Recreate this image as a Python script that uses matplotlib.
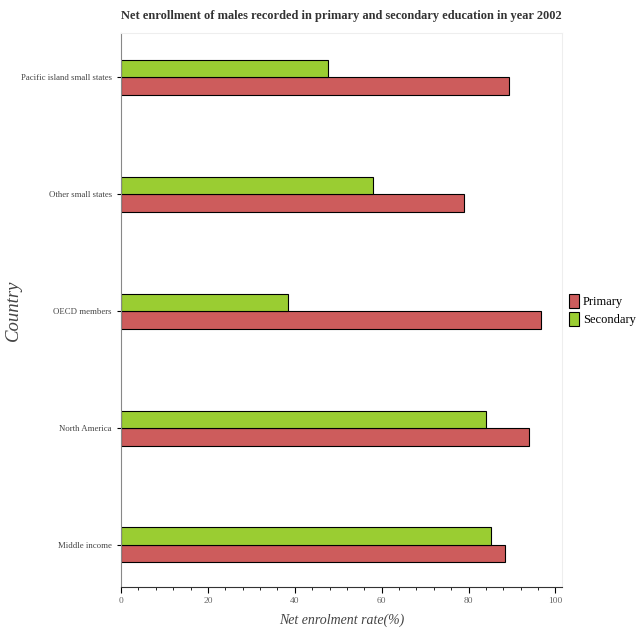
import matplotlib
matplotlib.use('Agg')
import matplotlib.pyplot as plt
import numpy as np
from matplotlib.ticker import MultipleLocator

countries = ['Middle income', 'North America', 'OECD members',
             'Other small states', 'Pacific island small states']
primary = [88.3, 93.8, 96.6, 78.9, 89.4]
secondary = [85.1, 84.1, 38.4, 57.9, 47.6]

C_PRIM = '#cd5c5c'
C_SEC = '#9acd32'

plt.rcParams['font.family'] = ['Liberation Serif', 'DejaVu Serif']

fig = plt.figure(figsize=(6.4, 6.4), dpi=100)
ax = fig.add_axes([121/640, 1 - 587/640, (562-121)/640, (587-33)/640])

y = np.arange(len(countries))
h = 0.15
ax.barh(y - h/2, primary, h, color=C_PRIM, edgecolor='black', linewidth=0.8, label='Primary')
ax.barh(y + h/2, secondary, h, color=C_SEC, edgecolor='black', linewidth=0.8, label='Secondary')

ax.set_yticks(y)
ax.set_yticklabels(countries, fontsize=6.3, color='#444444')
ax.set_ylim(-0.36, 4.38)
ax.set_xlim(0, 101.5)
ax.xaxis.set_major_locator(MultipleLocator(20))
ax.xaxis.set_minor_locator(MultipleLocator(4))
ax.tick_params(axis='x', labelsize=6.8, labelcolor='#666666', length=4)
ax.tick_params(axis='x', which='minor', length=2)
ax.tick_params(axis='y', length=3)

for s in ['top', 'right']:
    ax.spines[s].set_color('#eeeeee')
ax.spines['left'].set_color('#888888')
ax.spines['bottom'].set_color('#333333')

ax.set_xlabel('Net enrolment rate(%)', fontsize=10, style='italic', color='#444444', labelpad=6)
ax.set_ylabel('Country', fontsize=13.5, style='italic', color='#444444')
ax.yaxis.set_label_coords(-0.225, 0.5)

ax.set_title('Net enrollment of males recorded in primary and secondary education in year 2002',
             fontsize=8.9, fontweight='bold', color='#333333', pad=10)

ax.legend(loc='center left', bbox_to_anchor=(0.995, 0.5), frameon=False, fontsize=9,
          borderpad=0.2, handlelength=0.8, handleheight=1.3, handletextpad=0.35, labelspacing=0.3)

fig.savefig('out.png', dpi=100)
